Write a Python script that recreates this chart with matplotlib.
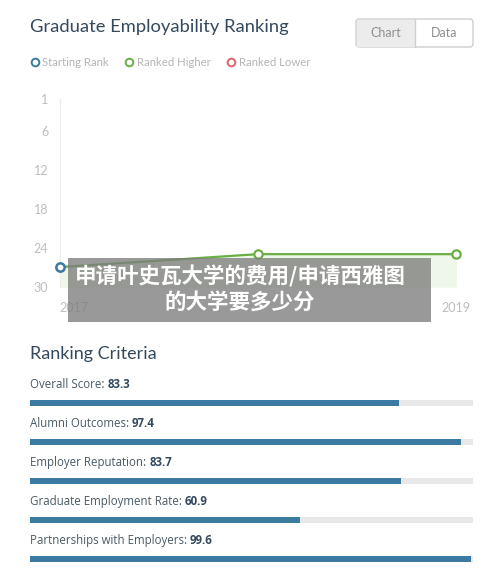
import matplotlib.pyplot as plt
from matplotlib.patches import Rectangle, FancyBboxPatch

# ranking history (lower number = better rank)
years = [2017, 2018, 2019]
ranks = [27, 25, 25]
start_year = 2017
start_rank = 27
ytick_vals = [1, 6, 12, 18, 24, 30]

# ranking criteria
criteria = ["Overall Score", "Alumni Outcomes", "Employer Reputation",
            "Graduate Employment Rate", "Partnerships with Employers"]
scores = [83.3, 97.4, 83.7, 60.9, 99.6]

W, H = 500, 581
fig = plt.figure(figsize=(W / 100, H / 100), dpi=100)
fig.patch.set_facecolor("white")

dark = "#34495e"
green = "#6aaf45"
blue = "#3b7aa1"
red = "#e0636b"


def px_axes(x0, y0, x1, y1, **kw):
    # axes placed by pixel box (top-left origin)
    return fig.add_axes([x0 / W, 1 - y1 / H, (x1 - x0) / W, (y1 - y0) / H], **kw)


# ---- line chart ----
ax = px_axes(59.5, 99, 456, 286.5)
ax.set_xlim(2017, 2019)
ax.set_ylim(30, 1)
ax.fill_between(years, ranks, 30, color="#eef7e9", zorder=1)
ax.plot(years, ranks, color=green, lw=1.6, zorder=2, clip_on=False)
ax.plot(years[1:], ranks[1:], "o", ms=6, mfc="white", mec=green, mew=1.6,
        zorder=3, clip_on=False)
ax.plot([start_year], [start_rank], "o", ms=6, mfc="white", mec=blue, mew=1.8,
        zorder=4, clip_on=False)
ax.set_yticks(ytick_vals)
ax.set_yticklabels([str(v) for v in ytick_vals], fontsize=9, color="#bdbdbd",
                   family="Lato")
ax.set_xticks([2017, 2019])
ax.set_xticklabels(["2017", "2019"], fontsize=9, color="#bdbdbd", family="Lato")
ax.get_xticklabels()[0].set_horizontalalignment("left")
ax.tick_params(length=0)
ax.tick_params(axis="y", pad=8)
ax.tick_params(axis="x", pad=11)
for s in ["top", "right", "bottom"]:
    ax.spines[s].set_visible(False)
ax.spines["left"].set_color("#ececec")
ax.set_facecolor("none")

# ---- criteria bars ----
bx = px_axes(30, 383.2, 473, 578.7)
bx.set_xlim(0, 100)
bx.set_ylim(4.5, -0.5)
pos = list(range(len(criteria)))
bx.barh(pos, [100] * len(pos), height=0.16, color="#e8e8e8", zorder=1)
bx.barh(pos, scores, height=0.16, color=blue, zorder=2)
bx.axis("off")
for i, (name, val) in enumerate(zip(criteria, scores)):
    t = bx.text(0, i - 0.47, name + ": ", fontsize=8.3, color="#4a5a66",
                family="Open Sans", va="center", ha="left")
    bx.annotate(f"{val}", xy=(1, 0.5), xycoords=t, va="center", ha="left",
                fontsize=8.3, color=dark, family="Open Sans", fontweight="bold")

# ---- overlay: headers, legend, buttons, watermark ----
ov = fig.add_axes([0, 0, 1, 1], zorder=10)
ov.set_xlim(0, W)
ov.set_ylim(H, 0)
ov.axis("off")
ov.set_facecolor("none")

ov.text(30, 27, "Graduate Employability Ranking", fontsize=13.2, color=dark,
        family="Lato", va="center", ha="left")
ov.text(30, 354, "Ranking Criteria", fontsize=13, color=dark,
        family="Lato", va="center", ha="left")

# legend
for cx, tx, col, lab in [(35, 42, blue, "Starting Rank"),
                         (129, 137, green, "Ranked Higher"),
                         (231, 239, red, "Ranked Lower")]:
    ov.plot([cx], [62], "o", ms=5.5, mfc="white", mec=col, mew=1.4)
    ov.text(tx, 62.5, lab, fontsize=8.2, color="#b5b5b5", family="Lato",
            va="center", ha="left")

# chart/data buttons
ov.add_patch(FancyBboxPatch((356, 19), 117, 28,
                            boxstyle="round,pad=0,rounding_size=3",
                            fc="white", ec="#cfcfcf", lw=1))
ov.add_patch(Rectangle((356.5, 19.5), 58.5, 27, fc="#ececec", ec="none"))
ov.plot([415, 415], [19, 47], color="#cfcfcf", lw=1)
ov.text(385.5, 33, "Chart", fontsize=9, color="#8f8f8f", family="Lato",
        va="center", ha="center")
ov.text(444, 33, "Data", fontsize=9, color="#8f8f8f", family="Lato",
        va="center", ha="center")

# watermark box
ov.add_patch(Rectangle((68, 258), 363, 64, fc="#7d7d7d", ec="none", alpha=0.78))
wm_font = ["Noto Sans CJK SC", "DejaVu Sans"]
ov.text(240, 276, "申请叶史瓦大学的费用/申请西雅图", fontsize=15.5, color="white",
        fontweight="heavy", family=wm_font, va="center", ha="center")
ov.text(240, 302, "的大学要多少分", fontsize=15.5, color="white",
        fontweight="heavy", family=wm_font, va="center", ha="center")

fig.savefig("out.png", dpi=100)
